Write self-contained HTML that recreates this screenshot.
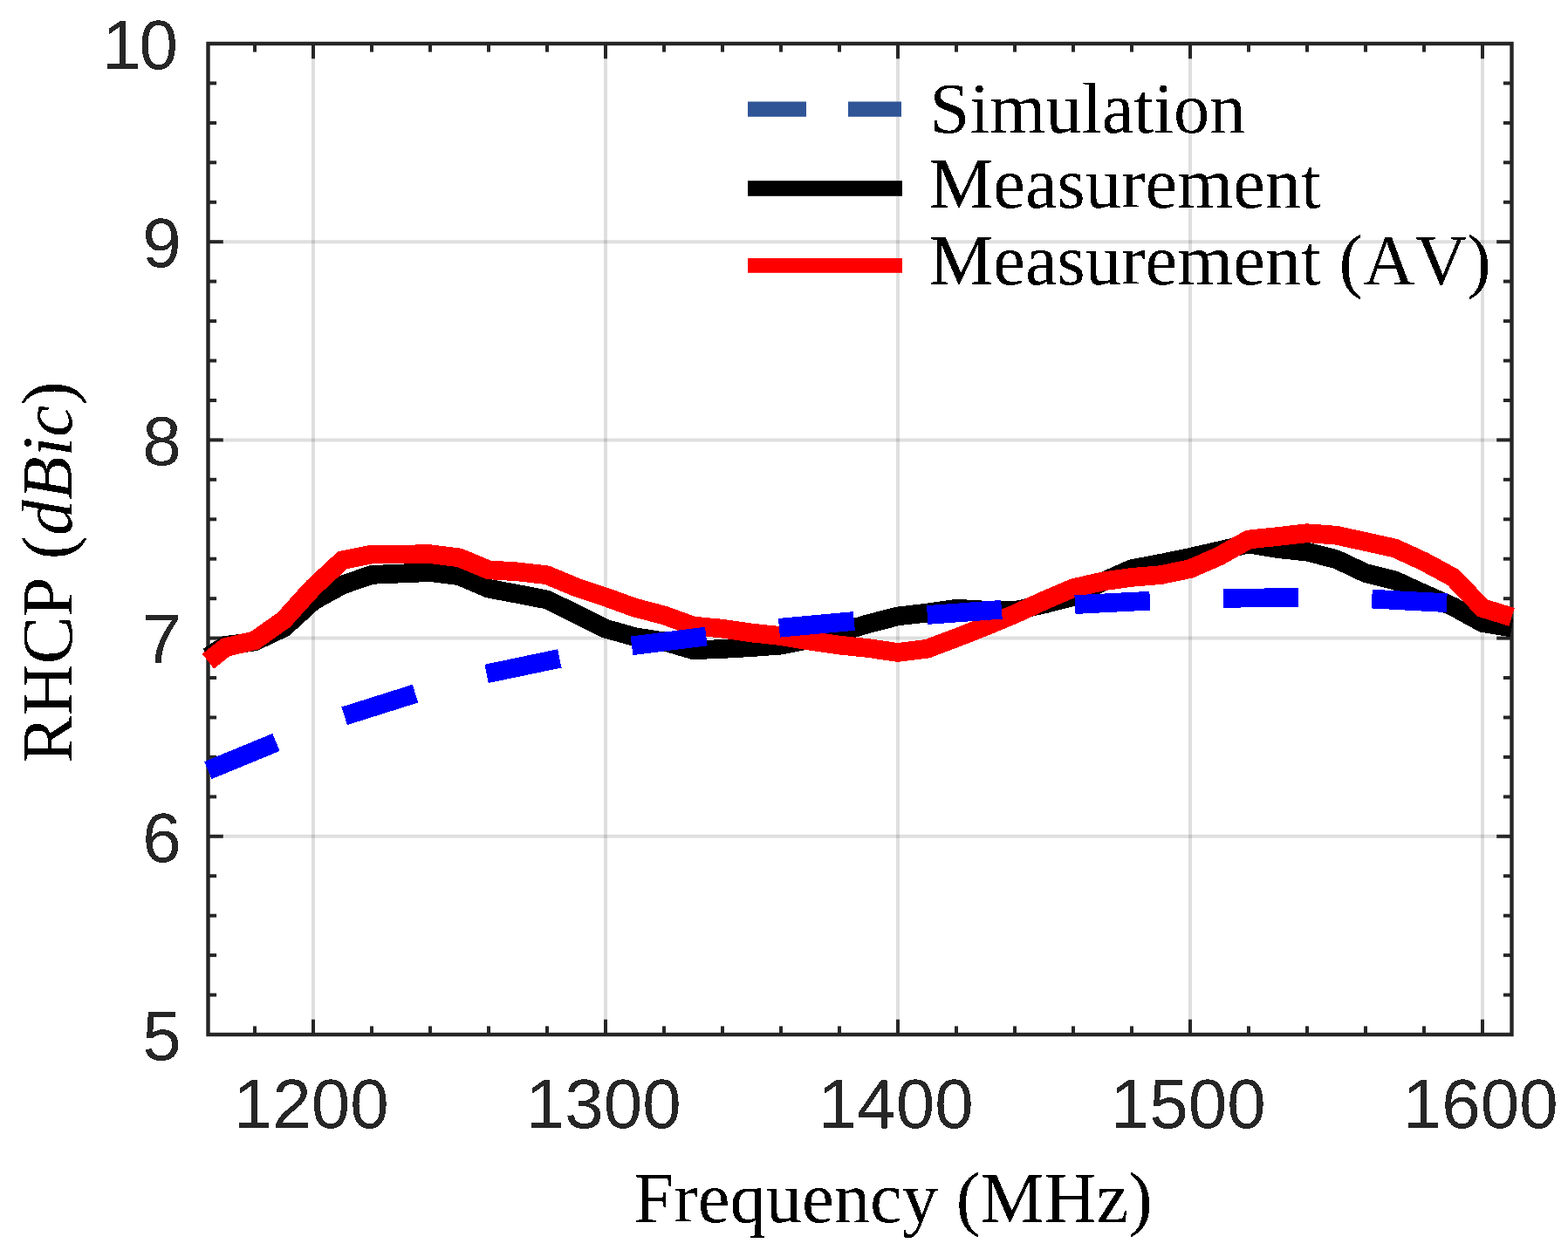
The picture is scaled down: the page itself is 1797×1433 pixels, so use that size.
<!DOCTYPE html>
<html><head><meta charset="utf-8"><title>RHCP vs Frequency</title>
<style>html,body{margin:0;padding:0;background:#fff;}svg{display:block;}text{font-kerning:none;}</style></head>
<body><svg width="1797" height="1433" viewBox="0 0 1797 1433"><defs><filter id="bin" x="-5%" y="-5%" width="110%" height="110%" color-interpolation-filters="sRGB"><feComponentTransfer><feFuncA type="discrete" tableValues="0 1"/></feComponentTransfer></filter></defs>
<g stroke="#262626" stroke-opacity="0.15" stroke-width="4"><line x1="359.0" y1="50" x2="359.0" y2="1186"/><line x1="694.0" y1="50" x2="694.0" y2="1186"/><line x1="1029.0" y1="50" x2="1029.0" y2="1186"/><line x1="1364.0" y1="50" x2="1364.0" y2="1186"/><line x1="1699.0" y1="50" x2="1699.0" y2="1186"/><line x1="238.5" y1="958.8" x2="1732.5" y2="958.8"/><line x1="238.5" y1="731.6" x2="1732.5" y2="731.6"/><line x1="238.5" y1="504.4" x2="1732.5" y2="504.4"/><line x1="238.5" y1="277.2" x2="1732.5" y2="277.2"/></g>
<g stroke="#262626" stroke-width="4"><line x1="238.5" y1="1186.0" x2="255.8" y2="1186.0"/><line x1="1732.5" y1="1186.0" x2="1715.2" y2="1186.0"/><line x1="238.5" y1="1140.6" x2="248.1" y2="1140.6"/><line x1="1732.5" y1="1140.6" x2="1722.9" y2="1140.6"/><line x1="238.5" y1="1095.1" x2="248.1" y2="1095.1"/><line x1="1732.5" y1="1095.1" x2="1722.9" y2="1095.1"/><line x1="238.5" y1="1049.7" x2="248.1" y2="1049.7"/><line x1="1732.5" y1="1049.7" x2="1722.9" y2="1049.7"/><line x1="238.5" y1="1004.2" x2="248.1" y2="1004.2"/><line x1="1732.5" y1="1004.2" x2="1722.9" y2="1004.2"/><line x1="238.5" y1="958.8" x2="255.8" y2="958.8"/><line x1="1732.5" y1="958.8" x2="1715.2" y2="958.8"/><line x1="238.5" y1="913.4" x2="248.1" y2="913.4"/><line x1="1732.5" y1="913.4" x2="1722.9" y2="913.4"/><line x1="238.5" y1="867.9" x2="248.1" y2="867.9"/><line x1="1732.5" y1="867.9" x2="1722.9" y2="867.9"/><line x1="238.5" y1="822.5" x2="248.1" y2="822.5"/><line x1="1732.5" y1="822.5" x2="1722.9" y2="822.5"/><line x1="238.5" y1="777.0" x2="248.1" y2="777.0"/><line x1="1732.5" y1="777.0" x2="1722.9" y2="777.0"/><line x1="238.5" y1="731.6" x2="255.8" y2="731.6"/><line x1="1732.5" y1="731.6" x2="1715.2" y2="731.6"/><line x1="238.5" y1="686.2" x2="248.1" y2="686.2"/><line x1="1732.5" y1="686.2" x2="1722.9" y2="686.2"/><line x1="238.5" y1="640.7" x2="248.1" y2="640.7"/><line x1="1732.5" y1="640.7" x2="1722.9" y2="640.7"/><line x1="238.5" y1="595.3" x2="248.1" y2="595.3"/><line x1="1732.5" y1="595.3" x2="1722.9" y2="595.3"/><line x1="238.5" y1="549.8" x2="248.1" y2="549.8"/><line x1="1732.5" y1="549.8" x2="1722.9" y2="549.8"/><line x1="238.5" y1="504.4" x2="255.8" y2="504.4"/><line x1="1732.5" y1="504.4" x2="1715.2" y2="504.4"/><line x1="238.5" y1="459.0" x2="248.1" y2="459.0"/><line x1="1732.5" y1="459.0" x2="1722.9" y2="459.0"/><line x1="238.5" y1="413.5" x2="248.1" y2="413.5"/><line x1="1732.5" y1="413.5" x2="1722.9" y2="413.5"/><line x1="238.5" y1="368.1" x2="248.1" y2="368.1"/><line x1="1732.5" y1="368.1" x2="1722.9" y2="368.1"/><line x1="238.5" y1="322.6" x2="248.1" y2="322.6"/><line x1="1732.5" y1="322.6" x2="1722.9" y2="322.6"/><line x1="238.5" y1="277.2" x2="255.8" y2="277.2"/><line x1="1732.5" y1="277.2" x2="1715.2" y2="277.2"/><line x1="238.5" y1="231.8" x2="248.1" y2="231.8"/><line x1="1732.5" y1="231.8" x2="1722.9" y2="231.8"/><line x1="238.5" y1="186.3" x2="248.1" y2="186.3"/><line x1="1732.5" y1="186.3" x2="1722.9" y2="186.3"/><line x1="238.5" y1="140.9" x2="248.1" y2="140.9"/><line x1="1732.5" y1="140.9" x2="1722.9" y2="140.9"/><line x1="238.5" y1="95.4" x2="248.1" y2="95.4"/><line x1="1732.5" y1="95.4" x2="1722.9" y2="95.4"/><line x1="238.5" y1="50.0" x2="255.8" y2="50.0"/><line x1="1732.5" y1="50.0" x2="1715.2" y2="50.0"/><line x1="292.0" y1="1186" x2="292.0" y2="1176.4"/><line x1="292.0" y1="50" x2="292.0" y2="59.6"/><line x1="359.0" y1="1186" x2="359.0" y2="1168.7"/><line x1="359.0" y1="50" x2="359.0" y2="67.3"/><line x1="426.0" y1="1186" x2="426.0" y2="1176.4"/><line x1="426.0" y1="50" x2="426.0" y2="59.6"/><line x1="493.0" y1="1186" x2="493.0" y2="1176.4"/><line x1="493.0" y1="50" x2="493.0" y2="59.6"/><line x1="560.0" y1="1186" x2="560.0" y2="1176.4"/><line x1="560.0" y1="50" x2="560.0" y2="59.6"/><line x1="627.0" y1="1186" x2="627.0" y2="1176.4"/><line x1="627.0" y1="50" x2="627.0" y2="59.6"/><line x1="694.0" y1="1186" x2="694.0" y2="1168.7"/><line x1="694.0" y1="50" x2="694.0" y2="67.3"/><line x1="761.0" y1="1186" x2="761.0" y2="1176.4"/><line x1="761.0" y1="50" x2="761.0" y2="59.6"/><line x1="828.0" y1="1186" x2="828.0" y2="1176.4"/><line x1="828.0" y1="50" x2="828.0" y2="59.6"/><line x1="895.0" y1="1186" x2="895.0" y2="1176.4"/><line x1="895.0" y1="50" x2="895.0" y2="59.6"/><line x1="962.0" y1="1186" x2="962.0" y2="1176.4"/><line x1="962.0" y1="50" x2="962.0" y2="59.6"/><line x1="1029.0" y1="1186" x2="1029.0" y2="1168.7"/><line x1="1029.0" y1="50" x2="1029.0" y2="67.3"/><line x1="1096.0" y1="1186" x2="1096.0" y2="1176.4"/><line x1="1096.0" y1="50" x2="1096.0" y2="59.6"/><line x1="1163.0" y1="1186" x2="1163.0" y2="1176.4"/><line x1="1163.0" y1="50" x2="1163.0" y2="59.6"/><line x1="1230.0" y1="1186" x2="1230.0" y2="1176.4"/><line x1="1230.0" y1="50" x2="1230.0" y2="59.6"/><line x1="1297.0" y1="1186" x2="1297.0" y2="1176.4"/><line x1="1297.0" y1="50" x2="1297.0" y2="59.6"/><line x1="1364.0" y1="1186" x2="1364.0" y2="1168.7"/><line x1="1364.0" y1="50" x2="1364.0" y2="67.3"/><line x1="1431.0" y1="1186" x2="1431.0" y2="1176.4"/><line x1="1431.0" y1="50" x2="1431.0" y2="59.6"/><line x1="1498.0" y1="1186" x2="1498.0" y2="1176.4"/><line x1="1498.0" y1="50" x2="1498.0" y2="59.6"/><line x1="1565.0" y1="1186" x2="1565.0" y2="1176.4"/><line x1="1565.0" y1="50" x2="1565.0" y2="59.6"/><line x1="1632.0" y1="1186" x2="1632.0" y2="1176.4"/><line x1="1632.0" y1="50" x2="1632.0" y2="59.6"/><line x1="1699.0" y1="1186" x2="1699.0" y2="1168.7"/><line x1="1699.0" y1="50" x2="1699.0" y2="67.3"/></g>
<rect x="238.5" y="50" width="1494" height="1136" fill="none" stroke="#262626" stroke-width="4.4"/>
<polyline shape-rendering="crispEdges" fill="none" stroke="#000" stroke-width="21.7" stroke-linejoin="miter" stroke-miterlimit="2" points="238.4,753.0 258.5,740.0 292.0,735.4 325.5,719.6 359.0,689.0 392.5,670.5 426.0,658.9 459.5,657.5 493.0,656.1 526.5,660.3 560.0,674.7 593.5,681.0 627.0,687.5 660.5,704.0 694.0,720.7 727.5,730.1 761.0,735.4 794.5,745.2 828.0,744.0 861.5,742.1 895.0,739.6 928.5,733.0 962.0,724.9 995.5,715.0 1029.0,706.4 1062.5,702.6 1096.0,697.7 1129.5,699.6 1163.0,700.1 1196.5,692.6 1230.0,684.1 1263.5,667.0 1297.0,652.1 1330.5,645.8 1364.0,638.9 1397.5,631.2 1431.0,623.5 1464.5,629.1 1498.0,632.6 1531.5,641.2 1565.0,657.0 1598.5,665.4 1632.0,680.7 1665.5,695.5 1699.0,714.0 1732.5,719.6"/>
<polyline shape-rendering="crispEdges" fill="none" stroke="#f00" stroke-width="21.7" stroke-linejoin="miter" stroke-miterlimit="2" points="238.4,758.1 258.5,742.1 292.0,734.2 325.5,710.5 359.0,673.3 392.5,642.2 426.0,635.5 459.5,635.5 493.0,635.2 526.5,639.4 560.0,653.3 593.5,655.4 627.0,659.3 660.5,673.3 694.0,684.5 727.5,696.6 761.0,705.4 794.5,717.5 828.0,720.7 861.5,725.5 895.0,729.1 928.5,734.7 962.0,739.6 995.5,743.1 1029.0,748.0 1062.5,743.8 1096.0,731.2 1129.5,718.0 1163.0,704.0 1196.5,688.5 1230.0,674.2 1263.5,666.5 1297.0,661.9 1330.5,659.1 1364.0,652.1 1397.5,637.5 1431.0,618.5 1464.5,615.0 1498.0,611.2 1531.5,613.7 1565.0,621.0 1598.5,628.4 1632.0,643.8 1665.5,662.0 1699.0,697.0 1732.5,707.4"/>
<g shape-rendering="crispEdges" stroke="#00f" stroke-width="21.7"><line x1="238.4" y1="883.1" x2="316.5" y2="850.9"/><line x1="394.7" y1="820.8" x2="476" y2="795.1"/><line x1="557.6" y1="772.4" x2="641.3" y2="754.9"/><line x1="724" y1="740.3" x2="809.3" y2="729.5"/><line x1="893" y1="719.8" x2="978.9" y2="712"/><line x1="1062.7" y1="705" x2="1147.9" y2="698.8"/><line x1="1232" y1="693.1" x2="1317.9" y2="688.7"/><line x1="1402.1" y1="685.9" x2="1487.8" y2="684.9"/><line x1="1572.2" y1="686.6" x2="1658.1" y2="691.2"/></g>
<g filter="url(#bin)" font-family="Liberation Sans, Arial, sans-serif" font-size="80" fill="#262626"><text x="207.7" y="1187.2" text-anchor="end" dominant-baseline="central">5</text><text x="207.7" y="960.0" text-anchor="end" dominant-baseline="central">6</text><text x="207.7" y="732.8" text-anchor="end" dominant-baseline="central">7</text><text x="207.7" y="505.6" text-anchor="end" dominant-baseline="central">8</text><text x="207.7" y="278.4" text-anchor="end" dominant-baseline="central">9</text><text x="204" y="51.0" text-anchor="end" dominant-baseline="central">1<tspan dx="-2">0</tspan></text><text x="356.8" y="1293" text-anchor="middle">1200</text><text x="691.8" y="1293" text-anchor="middle">1300</text><text x="1026.8" y="1293" text-anchor="middle">1400</text><text x="1361.8" y="1293" text-anchor="middle">1500</text><text x="1696.8" y="1293" text-anchor="middle">1600</text></g>
<text filter="url(#bin)" x="1023.5" y="1401" text-anchor="middle" font-family="Liberation Serif, Times New Roman, serif" font-size="82.7" fill="#000">Frequency (MHz)</text>
<g filter="url(#bin)"><text transform="translate(82,656) rotate(-90)" text-anchor="middle" font-family="Liberation Serif, Times New Roman, serif" font-size="81.6" fill="#000">RHCP (<tspan font-style="italic">dBic</tspan>)</text></g>
<rect x="857" y="116.5" width="67" height="17.3" fill="#2f5597"/><rect x="972" y="116.5" width="61" height="17.3" fill="#2f5597"/><rect x="857" y="207.2" width="177" height="17.6" fill="#000"/><rect x="857" y="296" width="177" height="16.8" fill="#f00"/><g filter="url(#bin)" font-family="Liberation Serif, Times New Roman, serif" font-size="82.5" fill="#000"><text x="1065.5" y="152">Simulation</text><text x="1065" y="237.7">Measurement</text><text x="1065" y="325.8">Measurement (AV)</text></g></svg></body></html>
